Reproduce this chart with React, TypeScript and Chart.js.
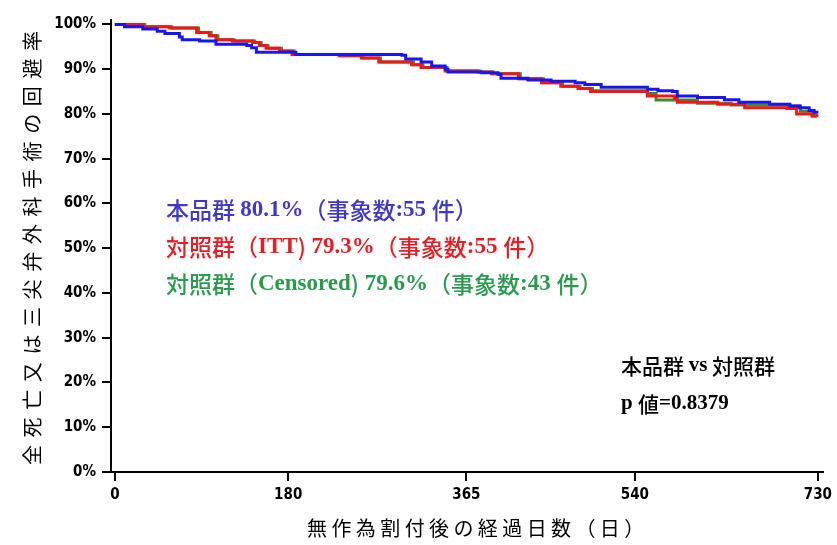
import React, { useEffect, useRef } from "react";
import { Chart, registerables } from "chart.js";

Chart.register(...registerables);

// ---- data ----
const xTickValues = [0, 180, 365, 540, 730];
const yTickValues = [0, 10, 20, 30, 40, 50, 60, 70, 80, 90, 100];

const blueDays = [0, 10, 29, 44, 52, 67, 70, 88, 105, 137, 142, 147, 188, 298, 302, 318, 329, 343, 346, 381, 398, 401, 429, 453, 478, 488, 505, 553, 564, 579, 584, 605, 633, 648, 680, 701, 711, 721, 726, 729];
const blueSurv = [100, 99.5, 99, 98.5, 98, 97.2, 96.6, 96.3, 95.6, 95.3, 94.8, 93.8, 93.3, 93.1, 92.3, 91.6, 90.7, 90.0, 89.4, 89.2, 88.8, 88.0, 87.6, 87.3, 87.0, 86.6, 86.0, 85.5, 85.2, 85.0, 84.0, 83.7, 83.2, 82.6, 82.2, 81.8, 81.4, 80.8, 80.4, 80.1];

const redDays = [0, 29, 57, 85, 98, 105, 122, 143, 150, 157, 171, 184, 233, 256, 274, 308, 318, 343, 377, 391, 419, 443, 463, 481, 494, 553, 581, 584, 626, 654, 698, 708, 724, 729];
const redSurv = [100, 99.5, 99.2, 98.2, 97.5, 96.6, 96.3, 96.0, 95.3, 94.7, 94.1, 93.3, 93.0, 92.5, 91.6, 91.0, 90.4, 89.6, 89.4, 89.0, 87.9, 87.0, 86.2, 85.7, 85.0, 84.0, 83.5, 82.6, 82.2, 81.4, 81.2, 80.0, 79.5, 79.3];

const greenDays = [0, 31, 59, 87, 100, 107, 124, 145, 152, 159, 173, 186, 235, 258, 276, 310, 320, 345, 379, 393, 421, 445, 465, 483, 496, 553, 562, 605, 640, 700, 712, 726, 729];
const greenSurv = [100, 99.5, 99.2, 98.2, 97.5, 96.6, 96.3, 96.0, 95.3, 94.7, 94.1, 93.3, 93.0, 92.5, 91.6, 91.0, 90.4, 89.6, 89.4, 89.0, 87.9, 87.0, 86.2, 85.7, 85.2, 84.6, 83.1, 82.4, 82.0, 81.8, 80.6, 79.8, 79.6];

const seriesLabels = ["本品群", "対照群(ITT)", "対照群(Censored)"];
const yAxisTitle = "全死亡又は三尖弁外科手術の回避率";
const xAxisTitle = "無作為割付後の経過日数（日）";

// annotation text: [text, style]
const legendBlue: [string, string][] = [["本品群 ", "j"], ["80.1%", "n"], ["（事象数", "j"], [":55 ", "n"], ["件）", "j"]];
const legendRed: [string, string][] = [["対照群（", "j"], ["ITT", "n"], [")", "j"], [" 79.3%", "n"], ["（事象数", "j"], [":55 ", "n"], ["件）", "j"]];
const legendGreen: [string, string][] = [["対照群（", "j"], ["Censored", "n"], [")", "j"], [" 79.6%", "n"], ["（事象数", "j"], [":43 ", "n"], ["件）", "j"]];
const pLine1: [string, string][] = [["本品群 ", "j"], ["vs", "n"], [" 対照群", "j"]];
const pLine2: [string, string][] = [["p ", "n"], ["値", "j"], ["=0.8379", "n"]];

const BLUE = "#1616f4";
const RED = "#f41616";
const GREEN = "#3c8a2c";
const BLUE_TXT = "#4038c4";
const RED_TXT = "#e41e24";
const GREEN_TXT = "#2a9a4e";

const toPoints = (days: number[], surv: number[]) => days.map((d, i) => ({ x: d, y: surv[i] }));

const TICK_FONT_FAMILY = "'Liberation Sans Narrow', 'DejaVu Sans Condensed', 'Arial Narrow', sans-serif";

function drawParts(ctx: CanvasRenderingContext2D, parts: [string, string][], x: number, y: number, size: number, color: string) {
  let cx = x;
  ctx.fillStyle = color;
  ctx.textBaseline = "middle";
  ctx.textAlign = "left";
  for (const [txt, style] of parts) {
    ctx.font = style === "n" ? `bold ${size}px 'Liberation Serif', 'Times New Roman', serif` : `500 ${size}px 'Noto Sans CJK JP', sans-serif`;
    ctx.fillText(txt, cx, y);
    cx += ctx.measureText(txt).width;
  }
}

const textPlugin = {
  id: "kmTexts",
  afterDraw(chart: any) {
    const ctx: CanvasRenderingContext2D = chart.ctx;
    const area = chart.chartArea;
    ctx.save();
    // y axis title (rotated)
    ctx.save();
    ctx.translate(32, (area.top + area.bottom) / 2 + 2);
    ctx.rotate(-Math.PI / 2);
    ctx.font = "20px 'Noto Sans CJK JP', sans-serif";
    (ctx as any).letterSpacing = "7.6px";
    ctx.fillStyle = "#000";
    ctx.textAlign = "center";
    ctx.textBaseline = "middle";
    ctx.fillText(yAxisTitle, 3.8, 0);
    ctx.restore();
    // x axis title
    ctx.save();
    ctx.font = "20px 'Noto Sans CJK JP', sans-serif";
    (ctx as any).letterSpacing = "4.4px";
    ctx.fillStyle = "#000";
    ctx.textAlign = "center";
    ctx.textBaseline = "middle";
    ctx.fillText(xAxisTitle, (area.left + area.right) / 2 + 11, 528);
    ctx.restore();
    // annotations
    drawParts(ctx, legendBlue, 166, 210, 23, BLUE_TXT);
    drawParts(ctx, legendRed, 166, 247, 23, RED_TXT);
    drawParts(ctx, legendGreen, 166, 284, 23, GREEN_TXT);
    drawParts(ctx, pLine1, 621, 366, 21, "#000");
    drawParts(ctx, pLine2, 621, 404, 21, "#000");
    ctx.restore();
  },
};

export default function App() {
  const canvasRef = useRef<HTMLCanvasElement | null>(null);

  useEffect(() => {
    if (!canvasRef.current) return;
    const tickFont = { family: TICK_FONT_FAMILY, size: 15, weight: "bold" as const };
    const chart = new Chart(canvasRef.current, {
      type: "line",
      data: {
        datasets: [
          { label: seriesLabels[0], data: toPoints(blueDays, blueSurv), borderColor: BLUE, order: 0 },
          { label: seriesLabels[1], data: toPoints(redDays, redSurv), borderColor: RED, order: 1 },
          { label: seriesLabels[2], data: toPoints(greenDays, greenSurv), borderColor: GREEN, order: 2 },
        ],
      },
      options: {
        animation: false,
        responsive: false,
        devicePixelRatio: 1,
        parsing: false as any,
        layout: { padding: { top: 20, right: 11, left: 0, bottom: 0 } },
        elements: {
          point: { radius: 0 },
          line: { borderWidth: 3, stepped: true, tension: 0, fill: false },
        },
        plugins: {
          legend: { display: false },
          tooltip: { enabled: false },
          title: { display: false },
        },
        scales: {
          x: {
            type: "linear",
            min: -4,
            max: 735,
            afterBuildTicks: (s: any) => {
              s.ticks = xTickValues.map((v) => ({ value: v }));
            },
            afterFit: (s: any) => {
              s.height = 73;
            },
            border: { display: true, color: "#000", width: 2 },
            grid: { display: true, drawOnChartArea: false, drawTicks: true, tickLength: 9, color: "#000", lineWidth: 2 },
            ticks: {
              color: "#000",
              font: tickFont,
              padding: 5,
              maxRotation: 0,
              autoSkip: false,
              callback: (v: any) => String(v),
            },
          },
          y: {
            type: "linear",
            min: 0,
            max: 101,
            afterBuildTicks: (s: any) => {
              s.ticks = yTickValues.map((v) => ({ value: v }));
            },
            afterFit: (s: any) => {
              s.width = 111;
            },
            border: { display: true, color: "#000", width: 2 },
            grid: { display: true, drawOnChartArea: false, drawTicks: true, tickLength: 9, color: "#000", lineWidth: 2 },
            ticks: {
              color: "#000",
              font: tickFont,
              padding: 6,
              autoSkip: false,
              callback: (v: any) => v + "%",
            },
          },
        },
      },
      plugins: [textPlugin],
    });
    return () => chart.destroy();
  }, []);

  return (
    <div style={{ position: "absolute", left: 0, top: 0, width: 837, height: 545, background: "#fff" }}>
      <canvas ref={canvasRef} width={837} height={545} style={{ display: "block", width: 837, height: 545 }} />
    </div>
  );
}
